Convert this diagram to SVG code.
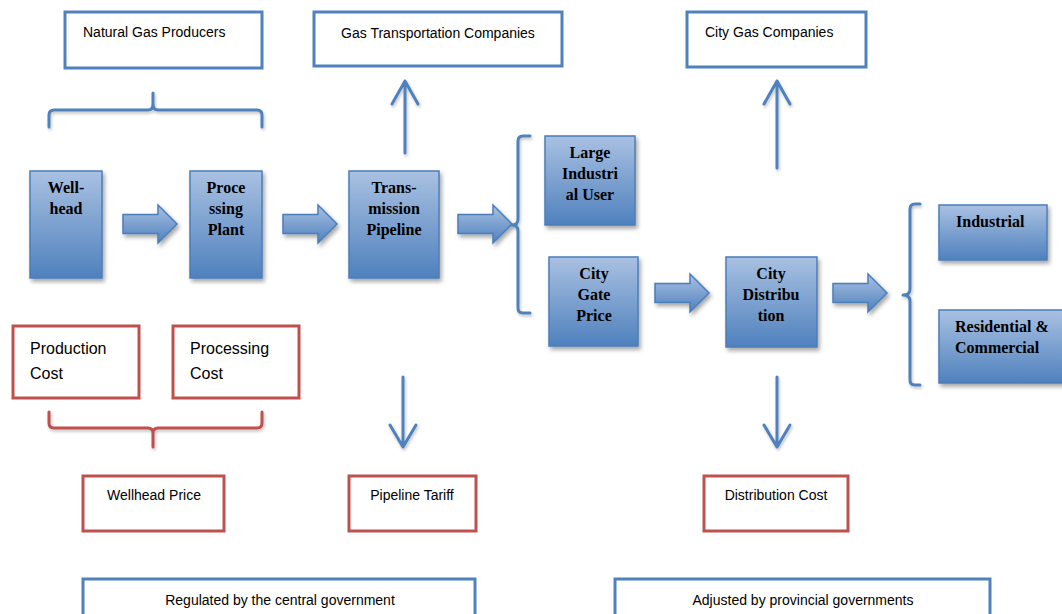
<svg xmlns="http://www.w3.org/2000/svg" width="1062" height="614" viewBox="0 0 1062 614">
<defs>
<linearGradient id="g" x1="0" y1="0" x2="0" y2="1">
<stop offset="0" stop-color="#A9C1E2"/>
<stop offset="1" stop-color="#4F81BD"/>
</linearGradient>
<filter id="sh" x="-20%" y="-20%" width="150%" height="150%">
<feDropShadow dx="2" dy="3" stdDeviation="2" flood-color="#000" flood-opacity="0.35"/>
</filter>
<filter id="sh2" x="-20%" y="-20%" width="150%" height="150%">
<feDropShadow dx="1" dy="2" stdDeviation="1.5" flood-color="#000" flood-opacity="0.25"/>
</filter>
<path id="blk" d="M0,-9.5 H35 V-19 L54,0 L35,19 V9.5 H0 Z"/>
</defs>
<style>
.gb{fill:url(#g);stroke:#4A7EBB;stroke-width:1.5;filter:url(#sh)}
.ob{fill:#fff;stroke:#4F81BD;stroke-width:3}
.rb{fill:#fff;stroke:#C0504D;stroke-width:3}
.bt{font-family:"Liberation Serif",serif;font-weight:bold;font-size:16px;fill:#000;text-anchor:middle}
.bl{font-family:"Liberation Serif",serif;font-weight:bold;font-size:16px;fill:#000}
.st{font-family:"Liberation Sans",sans-serif;font-size:14px;fill:#000}
.sm{font-family:"Liberation Sans",sans-serif;font-size:14px;fill:#000;text-anchor:middle}
.lt{font-family:"Liberation Sans",sans-serif;font-size:16px;fill:#000}
.ln{fill:none;stroke:#4F81BD;stroke-width:3;stroke-linecap:round;stroke-linejoin:round;filter:url(#sh2)}
.lr{fill:none;stroke:#C0504D;stroke-width:3;stroke-linecap:round;stroke-linejoin:round;filter:url(#sh2)}
.ba{fill:url(#g);stroke:#4A7EBB;stroke-width:1.5;filter:url(#sh)}
</style>

<g id="natural-gas-producers"><rect class="ob" x="65" y="12" width="197" height="56"/><text class="st" x="83" y="37">Natural Gas Producers</text></g>
<g id="gas-transportation-companies"><rect class="ob" x="314" y="12" width="248" height="54"/><text class="sm" x="438" y="38">Gas Transportation Companies</text></g>
<g id="city-gas-companies"><rect class="ob" x="687" y="12" width="179" height="55"/><text class="st" x="705" y="37">City Gas Companies</text></g>

<g id="wellhead"><rect class="gb" x="30" y="171" width="72" height="107"/><text class="bt" x="66" y="193">Well-</text><text class="bt" x="66" y="214">head</text></g>
<g id="processing-plant"><rect class="gb" x="190" y="171" width="72" height="107"/><text class="bt" x="226" y="193">Proce</text><text class="bt" x="226" y="214">ssing</text><text class="bt" x="226" y="235">Plant</text></g>
<g id="transmission-pipeline"><rect class="gb" x="349" y="171" width="90" height="107"/><text class="bt" x="394" y="193">Trans-</text><text class="bt" x="394" y="214">mission</text><text class="bt" x="394" y="235">Pipeline</text></g>
<g id="large-industrial-user"><rect class="gb" x="545" y="136" width="90" height="89"/><text class="bt" x="590" y="158">Large</text><text class="bt" x="590" y="179">Industri</text><text class="bt" x="590" y="200">al User</text></g>
<g id="city-gate-price"><rect class="gb" x="549" y="257" width="89" height="89"/><text class="bt" x="594" y="279">City</text><text class="bt" x="594" y="300">Gate</text><text class="bt" x="594" y="321">Price</text></g>
<g id="city-distribution"><rect class="gb" x="726" y="257" width="91" height="90"/><text class="bt" x="771" y="279">City</text><text class="bt" x="771" y="300">Distribu</text><text class="bt" x="771" y="321">tion</text></g>
<g id="industrial"><rect class="gb" x="939" y="205" width="108" height="55"/><text class="bl" x="956" y="227">Industrial</text></g>
<g id="residential-commercial"><rect class="gb" x="939" y="310" width="130" height="73"/><text class="bl" x="955" y="332">Residential &amp;</text><text class="bl" x="955" y="353">Commercial</text></g>

<g id="production-cost"><rect class="rb" x="13" y="326" width="126" height="72"/><text class="lt" x="30" y="354">Production</text><text class="lt" x="30" y="379">Cost</text></g>
<g id="processing-cost"><rect class="rb" x="173" y="326" width="126" height="72"/><text class="lt" x="190" y="354">Processing</text><text class="lt" x="190" y="379">Cost</text></g>
<g id="wellhead-price"><rect class="rb" x="83" y="476" width="141" height="55"/><text class="sm" x="154" y="500">Wellhead Price</text></g>
<g id="pipeline-tariff"><rect class="rb" x="349" y="476" width="127" height="55"/><text class="sm" x="412" y="500">Pipeline Tariff</text></g>
<g id="distribution-cost"><rect class="rb" x="704" y="476" width="144" height="55"/><text class="sm" x="776" y="500">Distribution Cost</text></g>

<g id="central-government"><rect class="ob" x="83" y="579" width="392" height="50"/><text class="sm" x="280" y="605" font-size="13">Regulated by the central government</text></g>
<g id="provincial-governments"><rect class="ob" x="615" y="579" width="375" height="50"/><text class="sm" x="803" y="605" font-size="13">Adjusted by provincial governments</text></g>

<g id="connectors">
<use href="#blk" class="ba" x="123" y="224"/>
<use href="#blk" class="ba" x="283" y="224"/>
<use href="#blk" class="ba" x="458" y="224"/>
<use href="#blk" class="ba" x="655" y="293"/>
<use href="#blk" class="ba" x="833" y="293"/>
<path class="ln" d="M405,153 V81 M392,104 L405,81 L418,104"/>
<path class="ln" d="M777,168 V81 M764,104 L777,81 L790,104"/>
<path class="ln" d="M403,377 V447 M390,425 L403,447 L416,425"/>
<path class="ln" d="M777,377 V447 M764,425 L777,447 L790,425"/>
<path class="ln" d="M49,127 V115 Q49,110 54,110 H148 Q153,110 153,104 V93 M153,104 Q153,110 158,110 H257 Q262,110 262,115 V127"/>
<path class="lr" d="M49,412 V423 Q49,428 54,428 H148 Q153,428 153,433 V447 M153,433 Q153,428 158,428 H257 Q262,428 262,423 V412"/>
<path class="ln" d="M530,136 H523 Q518,136 518,141 V219 Q518,225 512,225 Q518,225 518,231 V308 Q518,313 523,313 H530"/>
<path class="ln" d="M920,204 H915 Q910,204 910,209 V289 Q910,295 903,295 Q910,295 910,301 V380 Q910,385 915,385 H920"/>
<path class="ln" d="M527,346 V616"/>
</g>
</svg>
